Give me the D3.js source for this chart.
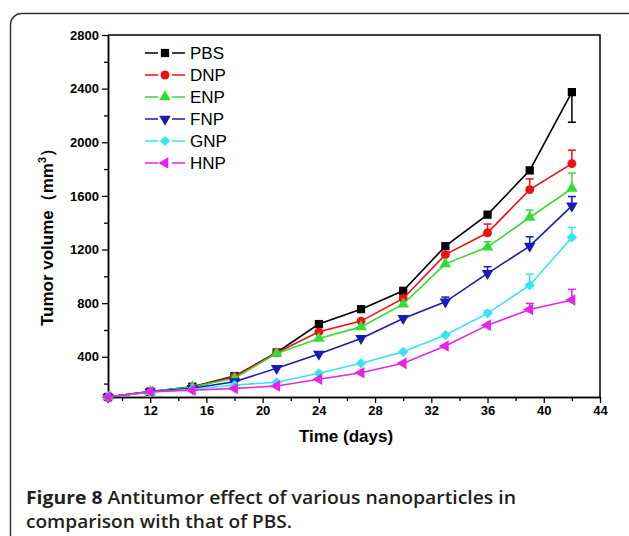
<!DOCTYPE html>
<html>
<head>
<meta charset="utf-8">
<script src="https://cdnjs.cloudflare.com/ajax/libs/d3/7.8.5/d3.min.js"></script>
<style>
  html, body { margin: 0; padding: 0; background: #fff; }
  svg { display: block; }
</style>
</head>
<body>
<div id="chart"></div>
<script>
// data
var days = [9, 12, 15, 18, 21, 24, 27, 30, 33, 36, 39, 42];
var seriesNames = ['PBS', 'DNP', 'ENP', 'FNP', 'GNP', 'HNP'];
var pbs = [100, 140, 177, 256, 432, 644, 755, 892, 1225, 1460, 1790, 2374];
var dnp = [100, 140, 172, 251, 430, 586, 666, 835, 1162, 1325, 1647, 1841];
var enp = [100, 140, 175, 239, 425, 537, 623, 793, 1093, 1218, 1439, 1655];
var fnp = [100, 138, 165, 214, 314, 420, 537, 686, 810, 1022, 1225, 1525];
var gnp = [100, 135, 158, 189, 210, 277, 351, 437, 562, 724, 934, 1290];
var hnp = [100, 140, 150, 164, 182, 232, 281, 351, 480, 636, 753, 823];
// error bars (negative = drawn downwards)
var pbsErr = [0, 0, 0, 0, 0, 0, 0, 0, 0, 0, 0, -225];
var dnpErr = [0, 0, 0, 0, 0, 0, 0, 20, 20, 65, 80, 100];
var enpErr = [0, 0, 0, 0, 0, 0, 0, 0, 0, 40, 55, 115];
var fnpErr = [0, 0, 0, 0, 0, 0, 0, 20, 35, 50, 70, 70];
var gnpErr = [0, 0, 0, 0, 0, 0, 0, 0, 0, 20, 82, 75];
var hnpErr = [0, 0, 0, 0, 0, 0, 0, 0, 0, 0, 45, 80];
var xTicks = [12, 16, 20, 24, 28, 32, 36, 40, 44];
var yTicks = [400, 800, 1200, 1600, 2000, 2400, 2800];

var values = [pbs, dnp, enp, fnp, gnp, hnp];
var errors = [pbsErr, dnpErr, enpErr, fnpErr, gnpErr, hnpErr];
var colors = ['#000000', '#ee1111', '#33dd33', '#1a1ab4', '#33e6ee', '#e622e6'];

var attrs = {
  width: 629,
  height: 536,
  left: 108,
  right: 600,
  top: 35,
  bottom: 397,
  font: 'Arial, "Liberation Sans", sans-serif'
};

var svg = d3.select('#chart').append('svg')
  .attr('width', attrs.width)
  .attr('height', attrs.height)
  .attr('font-family', attrs.font);

// outer rounded frame
svg.append('rect')
  .attr('x', 10.5).attr('y', 13.5)
  .attr('width', 640).attr('height', 540)
  .attr('rx', 11)
  .attr('fill', 'none')
  .attr('stroke', '#333')
  .attr('stroke-width', 1.5);

var x = d3.scaleLinear().domain([9, 44]).range([attrs.left, attrs.right]);
var y = d3.scaleLinear().domain([100, 2800]).range([attrs.bottom, attrs.top]);

// axes
var xAxis = d3.axisBottom(x).tickValues(xTicks).tickSize(6).tickSizeOuter(0).tickPadding(3);
var xMinor = d3.axisBottom(x).tickValues(d3.range(10, 44, 4)).tickSize(4).tickFormat('').tickSizeOuter(0);
var yAxis = d3.axisLeft(y).tickValues(yTicks).tickSize(6).tickSizeOuter(0).tickPadding(3)
  .tickFormat(d3.format('d'));
var yMinor = d3.axisLeft(y).tickValues(d3.range(200, 2800, 400)).tickSize(4).tickFormat('').tickSizeOuter(0);

function styleAxis(g) {
  g.select('.domain').attr('stroke', '#000').attr('stroke-width', 1.5);
  g.selectAll('.tick line').attr('stroke', '#000').attr('stroke-width', 1.3);
  g.selectAll('.tick text')
    .attr('fill', '#000')
    .attr('font-size', 13)
    .attr('font-weight', 'bold')
    .attr('font-family', attrs.font);
}

svg.append('g').attr('transform', 'translate(0,' + attrs.bottom + ')').call(xMinor).call(styleAxis);
svg.append('g').attr('transform', 'translate(0,' + attrs.bottom + ')').call(xAxis).call(styleAxis);
svg.append('g').attr('transform', 'translate(' + attrs.left + ',0)').call(yMinor).call(styleAxis);
svg.append('g').attr('transform', 'translate(' + attrs.left + ',0)').call(yAxis).call(styleAxis);

// top and right frame
svg.append('path')
  .attr('d', 'M' + attrs.left + ',' + attrs.top + 'H' + attrs.right + 'V' + attrs.bottom)
  .attr('fill', 'none')
  .attr('stroke', '#000')
  .attr('stroke-width', 1.5);

// axis titles
svg.append('text')
  .attr('x', (attrs.left + attrs.right) / 2 - 8)
  .attr('y', 442)
  .attr('text-anchor', 'middle')
  .attr('font-size', 17)
  .attr('font-weight', 'bold')
  .text('Time (days)');

var yTitle = svg.append('text')
  .attr('transform', 'translate(53,233) rotate(-90)')
  .attr('text-anchor', 'middle')
  .attr('font-size', 17)
  .attr('font-weight', 'bold');
yTitle.append('tspan').text('Tumor volume\uFF08mm');
yTitle.append('tspan').attr('dy', -7).attr('font-size', 11).text('3');
yTitle.append('tspan').attr('dy', 7).text('\uFF09');

// marker shapes
function markerPath(i) {
  var sym = [d3.symbolSquare, d3.symbolCircle, d3.symbolTriangle, d3.symbolTriangle, d3.symbolSquare, d3.symbolTriangle][i];
  var size = [68, 62, 58, 58, 52, 58][i];
  return d3.symbol().type(sym).size(size)();
}
var markerRotate = [0, 0, 0, 180, 45, -90];

var line = d3.line()
  .x(function (d) { return x(d.day); })
  .y(function (d) { return y(d.v); });

var plot = svg.append('g');

values.forEach(function (vals, i) {
  var pts = days.map(function (d, k) { return { day: d, v: vals[k], e: errors[i][k] }; });
  var g = plot.append('g').attr('class', 'series-' + seriesNames[i]);

  g.append('path')
    .datum(pts)
    .attr('d', line)
    .attr('fill', 'none')
    .attr('stroke', colors[i])
    .attr('stroke-width', 1.6);

  var eb = g.selectAll('.err').data(pts.filter(function (p) { return p.e !== 0; }))
    .enter().append('g').attr('class', 'err');
  eb.append('line')
    .attr('x1', function (p) { return x(p.day); })
    .attr('x2', function (p) { return x(p.day); })
    .attr('y1', function (p) { return y(p.v); })
    .attr('y2', function (p) { return y(p.v + p.e); })
    .attr('stroke', colors[i]).attr('stroke-width', 1.5);
  eb.append('line')
    .attr('x1', function (p) { return x(p.day) - 4; })
    .attr('x2', function (p) { return x(p.day) + 4; })
    .attr('y1', function (p) { return y(p.v + p.e); })
    .attr('y2', function (p) { return y(p.v + p.e); })
    .attr('stroke', colors[i]).attr('stroke-width', 1.5);

  g.selectAll('.pt').data(pts).enter().append('path')
    .attr('class', 'pt')
    .attr('d', markerPath(i))
    .attr('transform', function (p) { return 'translate(' + x(p.day) + ',' + y(p.v) + ') rotate(' + markerRotate[i] + ')'; })
    .attr('fill', colors[i]);
});

// legend
var legend = svg.append('g').attr('transform', 'translate(145,53)');
seriesNames.forEach(function (name, i) {
  var row = legend.append('g').attr('transform', 'translate(0,' + (i * 22) + ')');
  row.append('line').attr('x1', 0).attr('x2', 13).attr('y1', 0).attr('y2', 0)
    .attr('stroke', colors[i]).attr('stroke-width', 1.5);
  row.append('line').attr('x1', 27).attr('x2', 40).attr('y1', 0).attr('y2', 0)
    .attr('stroke', colors[i]).attr('stroke-width', 1.5);
  row.append('path')
    .attr('d', markerPath(i))
    .attr('transform', 'translate(20,0) rotate(' + markerRotate[i] + ')')
    .attr('fill', colors[i]);
  row.append('text')
    .attr('x', 45)
    .attr('y', 6)
    .attr('font-size', 17)
    .attr('fill', '#000')
    .text(name);
});

// caption
var cap = svg.append('g')
  .attr('font-family', '"Open Sans", "Noto Sans", sans-serif')
  .attr('font-size', 18)
  .attr('fill', '#231f20');
var l1 = cap.append('text').attr('x', 26).attr('y', 504)
  .attr('textLength', 490).attr('lengthAdjust', 'spacingAndGlyphs');
l1.append('tspan').attr('font-weight', 'bold').text('Figure 8');
l1.append('tspan').attr('font-weight', 600).text(' Antitumor effect of various nanoparticles in');
cap.append('text').attr('x', 26).attr('y', 528).attr('font-weight', 600)
  .attr('textLength', 266).attr('lengthAdjust', 'spacingAndGlyphs')
  .text('comparison with that of PBS.');
</script>
</body>
</html>
